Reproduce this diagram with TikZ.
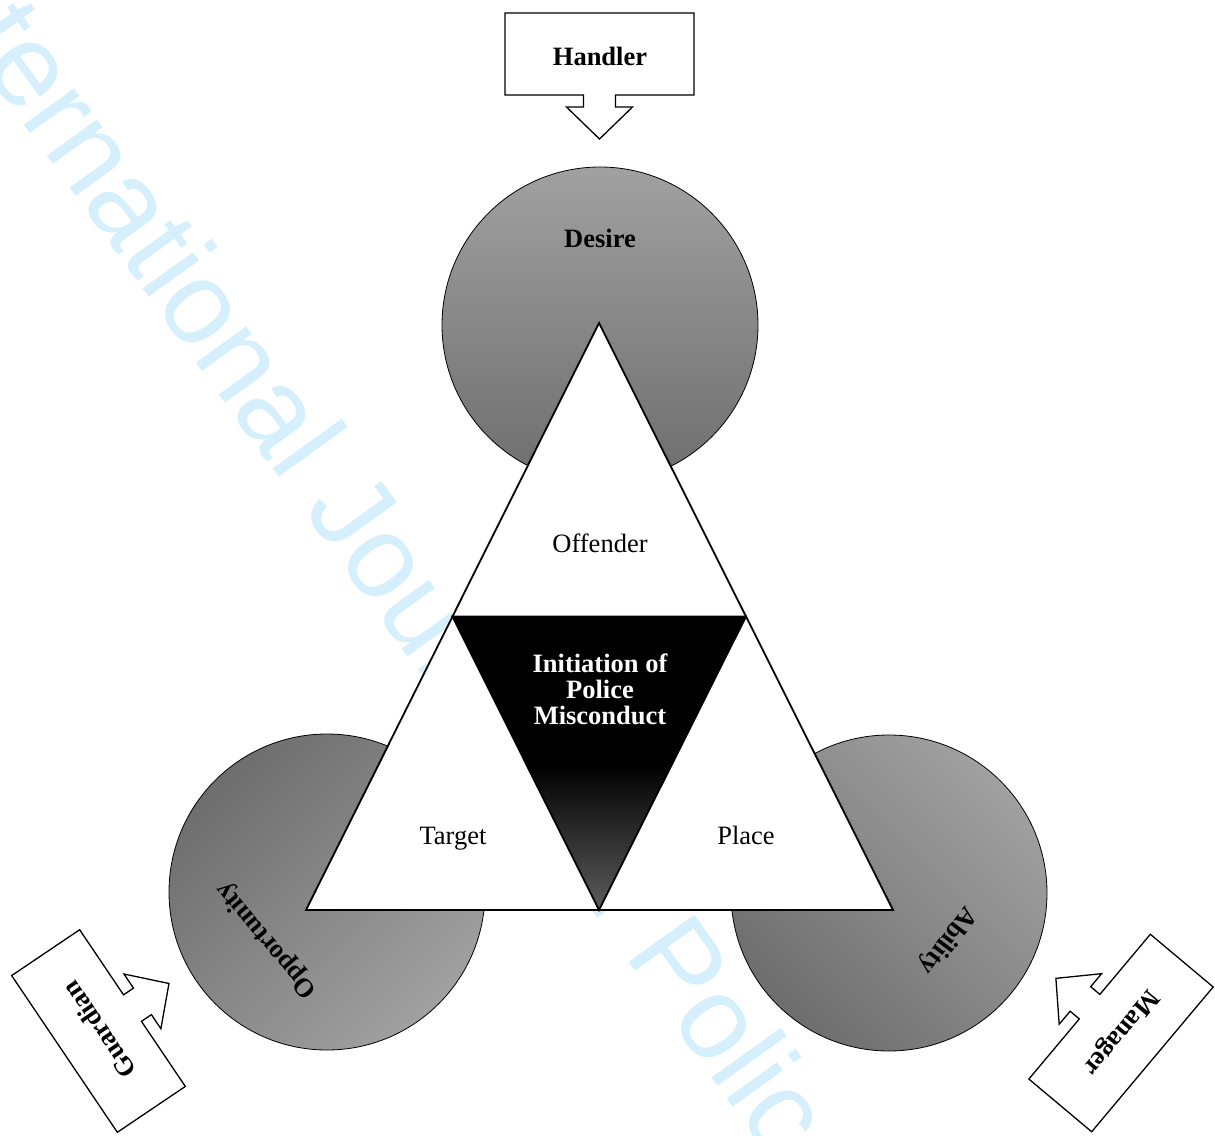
\documentclass[tikz,border=0pt]{standalone}
\usepackage{fontspec}
\setmainfont{Liberation Serif}
\newfontfamily\wmfont{Liberation Sans}
\definecolor{wmcyan}{RGB}{213,240,252}
\definecolor{lightgr}{gray}{0.63}
\definecolor{darkgr}{gray}{0.43}
\definecolor{tipgr}{gray}{0.36}
\pgfdeclareverticalshading{miscshade}{100bp}{color(0bp)=(tipgr); color(25bp)=(tipgr); color(50bp)=(black); color(100bp)=(black)}
\tikzset{
  lbl/.style={font=\fontsize{26.5}{26}\selectfont, inner sep=0pt, align=center},
  blbl/.style={font=\fontsize{26.5}{26}\selectfont\bfseries, inner sep=0pt, align=center},
  circ/.style={circle, draw=black, line width=0.8pt, minimum size=316pt, inner sep=0pt},
  callout/.style={draw=black, line width=1.3pt, fill=white, line join=miter},
  tri/.style={draw=black, line width=1.8pt, line join=miter},
  wmark/.style={text=wmcyan, font=\wmfont\fontsize{117.5}{120}\selectfont, inner sep=0pt},
  calloutshape/.pic={
    \path[callout] (-94.5,-41) -- (94.5,-41) -- (94.5,41) -- (16,41) -- (16,53)
      -- (33,53) -- (0,85) -- (-33,53) -- (-16,53) -- (-16,41) -- (-94.5,41) -- cycle;
  }
}
\begin{document}
\begin{tikzpicture}[x=1pt,y=-1pt]
\useasboundingbox (0,0) rectangle (1215,1135);
\begin{scope}
  \clip (0,0) rectangle (1215,1135);
  \node[wmark, anchor=base west, rotate=-54.2] (watermark) at (-95,-41)
    {International Journal of Police Science and Management};
\end{scope}

% circles
\node[circ, top color=lightgr, bottom color=darkgr] (desirecirc) at (600,325) {};
\node[circ, top color=darkgr, bottom color=lightgr, shading angle=45] (oppcirc) at (327,892) {};
\node[circ, top color=lightgr, bottom color=darkgr, shading angle=-45] (abilcirc) at (889,893) {};

\node[blbl, anchor=base] (desire) at (600,247) {Desire};
\node[blbl, rotate=130] (opportunity) at (267,940) {Opportunity};
\node[blbl, rotate=-127] (ability) at (947,940) {Ability};

% triangle
\coordinate (T) at (599,323);
\coordinate (BL) at (306,910);
\coordinate (BR) at (893,910);
\coordinate (ML) at (452.5,616.5);
\coordinate (MR) at (746,616.5);
\coordinate (MB) at (599,910);
\path[tri, fill=white] (T) -- (BR) -- (BL) -- cycle;
\shade[shading=miscshade] (ML) -- (MR) -- (MB) -- cycle;
\path[tri] (ML) -- (MR) -- (MB) -- cycle;

\node[lbl, anchor=base] (offender) at (600,552) {Offender};
\node[lbl, anchor=base] (target) at (453,844) {Target};
\node[lbl, anchor=base] (place) at (746,844) {Place};
\node[blbl, text=white] (initiation) at (600,689) {Initiation of\\Police\\Misconduct};

% callouts
\pic at (599.5,54) {calloutshape};
\node[blbl, anchor=base] (handler) at (600,65) {Handler};

\pic[rotate=124] at (98.5,1031) {calloutshape};
\node[blbl, rotate=124] (guardian) at (99,1030) {Guardian};

\pic[rotate=-130] at (1121,1033) {calloutshape};
\node[blbl, rotate=-130] (manager) at (1120,1032) {Manager};
\end{tikzpicture}
\end{document}
